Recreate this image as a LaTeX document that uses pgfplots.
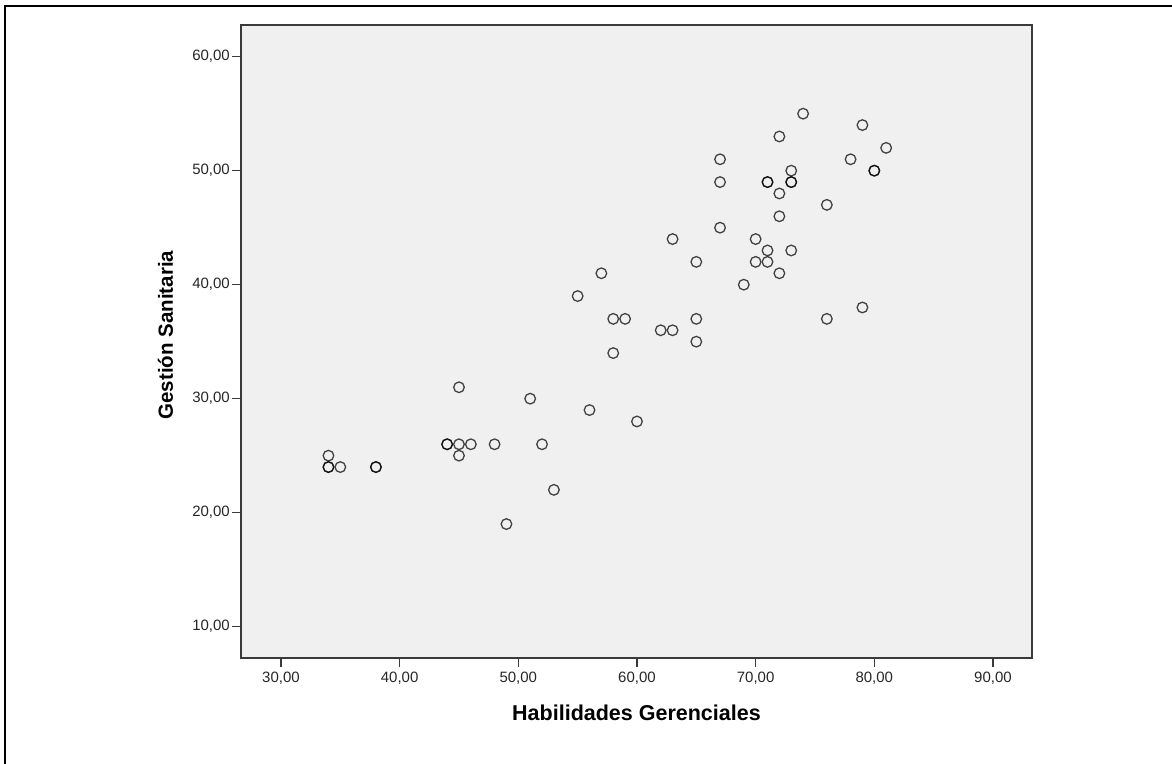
\documentclass[border=0pt]{standalone}
\usepackage{fontspec}
\setmainfont{Liberation Sans}
\usepackage{pgfplots}
\pgfplotsset{compat=1.18}
\definecolor{bg}{HTML}{F0F0F0}
\definecolor{frm}{HTML}{3A3A3A}
\begin{document}
\begin{tikzpicture}[x=1pt,y=1pt]
\useasboundingbox (0,0) rectangle (1172,763);
\draw[line width=2pt] (5,-3) -- (5,757.3) -- (1176,757.3);
\begin{axis}[
  at={(241pt,105pt)}, anchor=south west,
  width=791pt, height=633pt, scale only axis,
  xmin=26.63, xmax=93.29, ymin=7.25, ymax=62.78,
  xtick={30,40,...,90}, ytick={10,20,...,60},
  minor tick num=0,
  tick align=outside, major tick length=9pt,
  xtick pos=bottom, ytick pos=left,
  every tick/.style={line width=1.6pt, frm},
  axis line style={line width=1.4pt, frm},
  axis background/.style={fill=bg},
  /pgf/number format/.cd, fixed, fixed zerofill, precision=2, use comma, assume math mode=true,
  /pgfplots/.cd,
  tick label style={font=\fontsize{15}{17}\selectfont, text=black!85, inner sep=0pt},
  xticklabel style={anchor=north, yshift=-5pt},
  yticklabel style={anchor=east, xshift=-2pt},
  xlabel={Habilidades Gerenciales},
  ylabel={Gestión Sanitaria},
  xlabel style={font=\fontsize{21.5}{24}\selectfont\bfseries, at={(axis description cs:0.5,-0.098)}, anchor=base, inner sep=0pt},
  ylabel style={font=\fontsize{20.5}{24}\selectfont\bfseries, at={(axis description cs:-0.086,0.51)}, anchor=base, inner sep=0pt},
  clip=false,
]
\addplot[only marks, mark=o, mark size=5.3pt,
  mark options={draw=black, draw opacity=0.72, line width=1.3pt, fill=none}]
coordinates {
(34,25) (34,24) (34,24) (35,24) (38,24) (38,24)
(44,26) (44,26) (45,26) (46,26) (45,25) (45,31) (48,26) (49,19)
(51,30) (52,26) (53,22) (55,39) (56,29) (57,41) (58,37) (59,37)
(58,34) (60,28) (62,36) (63,36) (63,44) (65,42) (65,37) (65,35)
(67,51) (67,49) (67,45) (69,40) (70,44) (70,42) (71,43) (71,42)
(71,49) (71,49) (72,53) (72,48) (72,46) (72,41) (73,50) (73,49) (73,49)
(73,43) (74,55) (76,47) (76,37) (78,51) (79,54) (79,38) (80,50) (80,50) (81,52)
};
\end{axis}
\end{tikzpicture}
\end{document}
